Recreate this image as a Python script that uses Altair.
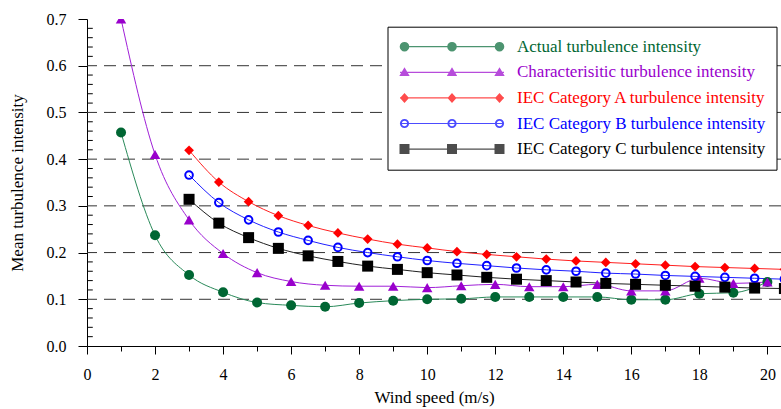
import altair as alt
import pandas as pd
import numpy as np

# ---------------- data ----------------
series_names = [
    "Actual turbulence intensity",
    "Characterisitic turbulence intensity",
    "IEC Category A turbulence intensity",
    "IEC Category B turbulence intensity",
    "IEC Category C turbulence intensity",
]

wind_measured = [1, 2, 3, 4, 5, 6, 7, 8, 9, 10, 11, 12, 13, 14, 15, 16, 17, 18, 19, 20]
actual_ti = [0.457, 0.237, 0.152, 0.115, 0.093, 0.087, 0.084, 0.092, 0.097, 0.100,
             0.101, 0.105, 0.105, 0.105, 0.105, 0.099, 0.099, 0.112, 0.114, 0.137]
characteristic_ti = [0.700, 0.410, 0.270, 0.198, 0.157, 0.138, 0.130, 0.128, 0.128, 0.125,
                     0.129, 0.132, 0.127, 0.127, 0.132, 0.118, 0.118, 0.145, 0.134, 0.137]

wind_iec = [3.0, 3.875, 4.75, 5.625, 6.5, 7.375, 8.25, 9.125, 10.0, 10.875, 11.75,
            12.625, 13.5, 14.375, 15.25, 16.125, 17.0, 17.875, 18.75, 19.625, 20.5]
iec_a = [0.419, 0.351, 0.309, 0.279, 0.258, 0.242, 0.229, 0.218, 0.210, 0.202, 0.196,
         0.191, 0.186, 0.182, 0.179, 0.176, 0.173, 0.170, 0.168, 0.166, 0.164]
iec_b = [0.366, 0.307, 0.270, 0.244, 0.226, 0.211, 0.200, 0.191, 0.183, 0.177, 0.172,
         0.167, 0.163, 0.160, 0.156, 0.154, 0.151, 0.149, 0.147, 0.145, 0.143]
iec_c = [0.314, 0.263, 0.232, 0.209, 0.193, 0.181, 0.171, 0.164, 0.157, 0.152, 0.147,
         0.143, 0.140, 0.137, 0.134, 0.132, 0.130, 0.128, 0.126, 0.124, 0.123]

x_ticks = list(range(0, 21))
y_ticks = [0.0, 0.1, 0.2, 0.3, 0.4, 0.5, 0.6, 0.7]
y_grid = [0.1, 0.2, 0.3, 0.4, 0.5, 0.6]
y_minor = [0.02, 0.04, 0.06, 0.08, 0.12, 0.14, 0.16, 0.18, 0.22, 0.24, 0.26, 0.28,
           0.32, 0.34, 0.36, 0.38, 0.42, 0.44, 0.46, 0.48, 0.52, 0.54, 0.56, 0.58,
           0.62, 0.64, 0.66, 0.68]

marker_colors = ["#006633", "#9900cc", "#ff0000", "#0000ff", "#000000"]
line_colors = ["#2a8a5a", "#a020d8", "#ff2020", "#2020ff", "#202020"]

# ---------------- tables ----------------
rows = []
for xv, yv in zip(wind_measured, actual_ti):
    rows.append({"series": series_names[0], "x": xv, "y": yv})
for xv, yv in zip(wind_measured, characteristic_ti):
    rows.append({"series": series_names[1], "x": xv, "y": yv})
for name, vals in zip(series_names[2:], [iec_a, iec_b, iec_c]):
    for xv, yv in zip(wind_iec, vals):
        rows.append({"series": name, "x": xv, "y": yv})
df = pd.DataFrame(rows)
grid_df = pd.DataFrame({"y": y_grid})
minor_df = pd.DataFrame({"y": y_minor})

FONT = "Liberation Serif"
x_scale = alt.Scale(domain=[0, 20.4], nice=False, zero=False)
y_scale = alt.Scale(domain=[0, 0.7], nice=False)

# ---------------- legend symbol paths (line + three markers) ----------------
HALF = 52.0  # half-width of legend symbol in px


def P(v):
    return f"{v / HALF:.4f}"


def poly(points):
    return "M" + " L".join(f"{P(px)},{P(py)}" for px, py in points) + " Z"


def circle_pts(cx, r, n=16, reverse=False):
    angs = np.linspace(0, 2 * np.pi, n, endpoint=False)
    if reverse:
        angs = angs[::-1]
    return [(cx + r * np.cos(a), r * np.sin(a)) for a in angs]


centers = [-47.5, 0.0, 47.5]
line_rect = poly([(-52, -0.6), (52, -0.6), (52, 0.6), (-52, 0.6)])

p_circle = line_rect + " " + " ".join(poly(circle_pts(c, 4.8)) for c in centers)
p_tri = line_rect + " " + " ".join(poly([(c, -5.0), (c + 5.2, 3.8), (c - 5.2, 3.8)]) for c in centers)
p_diam = line_rect + " " + " ".join(poly([(c, -5.0), (c + 4.5, 0), (c, 5.0), (c - 4.5, 0)]) for c in centers)
p_ring = line_rect + " " + " ".join(
    poly(circle_pts(c, 4.6)) + " " + poly(circle_pts(c, 2.7, reverse=True)) for c in centers)
p_sq = line_rect + " " + " ".join(poly([(c - 5.0, -5.0), (c + 5.0, -5.0), (c + 5.0, 5.0), (c - 5.0, 5.0)]) for c in centers)
legend_paths = [p_circle, p_tri, p_diam, p_ring, p_sq]

label_expr = ""
for name, col in zip(series_names, marker_colors):
    label_expr += f"datum.label == '{name}' ? '{col}' : "
label_expr += "'black'"

# ---------------- encodings ----------------
x_axis = alt.Axis(
    values=x_ticks,
    labelExpr="datum.value % 2 == 0 ? datum.label : ''",
    tickSize={"condition": {"test": "datum.value % 2 == 0", "value": 8}, "value": 5},
    tickColor="#000000", domainColor="#000000", tickWidth=1, domainWidth=1,
    labelFont=FONT, labelFontSize=16, labelColor="#000000", labelPadding=12,
    title="Wind speed (m/s)", titleFont=FONT, titleFontSize=17, titleFontWeight="normal",
    titleColor="#000000", titlePadding=7, grid=False, labelFlush=False,
)
y_axis = alt.Axis(
    values=y_ticks, format=".1f", tickSize=9, tickColor="#000000", domainColor="#000000",
    labelFont=FONT, labelFontSize=16, labelColor="#000000", labelPadding=12,
    title="Mean turbulence intensity", titleFont=FONT, titleFontSize=17,
    titleFontWeight="normal", titleColor="#000000", titlePadding=20, grid=False,
)


def X():
    return alt.X("x:Q", scale=x_scale, axis=x_axis)


def Y():
    return alt.Y("y:Q", scale=y_scale, axis=y_axis)


grid = alt.Chart(grid_df).mark_rule(color="#333333", strokeWidth=1, strokeDash=[12, 7]).encode(
    y=Y()
)
minor = alt.Chart(minor_df).mark_rule(color="#000000", strokeWidth=1).encode(
    y=Y(),
    x=alt.datum(0, scale=x_scale, axis=x_axis),
    x2=alt.datum(0.17),
)

line_layers = []
for name, col in zip(series_names, line_colors):
    line_layers.append(
        alt.Chart(df).transform_filter(alt.datum.series == name)
        .mark_line(interpolate="monotone", strokeWidth=1, clip=True, color=col)
        .encode(x=X(), y=Y())
    )

point_specs = [
    dict(shape="circle", filled=True, size=100),
    dict(shape="triangle-up", filled=True, size=110),
    dict(shape="diamond", filled=True, size=95),
    dict(shape="circle", filled=False, size=58, strokeWidth=2),
    dict(shape="square", filled=True, size=121),
]
point_layers = []
for name, col, spec in zip(series_names, marker_colors, point_specs):
    point_layers.append(
        alt.Chart(df).transform_filter(alt.datum.series == name)
        .mark_point(color=col, opacity=1, clip=True, **spec)
        .encode(x=X(), y=Y())
    )

# layer without drawn items that only carries the legend
legend_layer = alt.Chart(df).transform_filter("false").mark_point(filled=True, size=10816).encode(
    x=X(), y=Y(),
    color=alt.Color("series:N", scale=alt.Scale(domain=series_names, range=marker_colors),
                    legend=alt.Legend(
                        title=None, orient="none", legendX=300.5, legendY=7.7,
                        padding=10, strokeColor="#000000", fillColor="#ffffff",
                        cornerRadius=0, rowPadding=5.6, clipHeight=20,
                        symbolSize=10816, symbolStrokeWidth=0, symbolOffset=2.5,
                        labelOffset=13, labelFont=FONT, labelFontSize=17, labelLimit=0,
                        labelColor={"expr": label_expr},
                    )),
    shape=alt.Shape("series:N", scale=alt.Scale(domain=series_names, range=legend_paths)),
)

chart = alt.layer(grid, *line_layers, minor, *point_layers, legend_layer).properties(
    width=694, height=327,
    autosize=alt.AutoSizeParams(type="none"),
    padding={"left": 87, "top": 19, "right": 0, "bottom": 63},
    background="#ffffff",
).configure_view(stroke=None)

chart.save("out.html", embed_options={"renderer": "svg", "actions": False})
